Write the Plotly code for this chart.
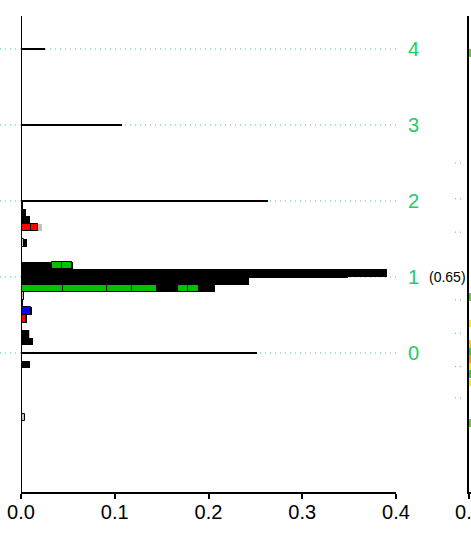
import plotly.graph_objects as go

# ---- data -------------------------------------------------------------
# integer-level reference lines
LEVEL_Y = [0, 1, 2, 3, 4]
LEVEL_X = [0.252, 0.349, 0.263, 0.108, 0.026]

# light grey background bins
GREY_Y = [2.55, 2.25, 1.65, 0.75, 0.25, -0.75]
GREY_X = [0.001, 0.001, 0.022, 0.003, 0.0095, 0.001]

# black totals per bin
BLACK_Y = [1.95, 1.85, 1.75, 1.55, 1.45, 1.35, 1.25, 1.15, 1.05, 0.95, 0.85,
           0.65, 0.55, 0.45, 0.35, 0.25, 0.15, 0.05, -0.05, -0.15]
BLACK_X = [0.0025, 0.0055, 0.0095, 0.001, 0.0067, 0.001, 0.001, 0.0555, 0.39,
           0.243, 0.207, 0.0012, 0.012, 0.0065, 0.001, 0.0085, 0.013, 0.001,
           0.001, 0.0096]

# coloured sub-segments: bin, start, end, colour
SEG_Y = [1.65, 1.65, 1.45, 1.15, 1.15,
         0.85, 0.85, 0.85, 0.85, 0.85, 0.85,
         0.75, 0.55, 0.45, -0.85]
SEG_START = [0.0, 0.011, 0.0, 0.033, 0.0435,
             0.0, 0.0448, 0.0917, 0.118, 0.167, 0.178,
             0.0, 0.0, 0.0, 0.0]
SEG_END = [0.011, 0.018, 0.0035, 0.0435, 0.054,
           0.0448, 0.0917, 0.118, 0.145, 0.178, 0.19,
           0.003, 0.011, 0.0055, 0.004]
SEG_COLOR = ["#ff0000", "#ff0000", "#c0c0c0", "#00c000", "#00c000",
             "#00c000", "#00c000", "#00c000", "#00c000", "#00c000", "#00c000",
             "#c0c0c0", "#0000ff", "#ff0000", "#c0c0c0"]

Y_TICKS = [0, 1, 2, 3, 4]
Y_TICK_TEXT = ["0", "1", "2", "3", "4"]
X_TICKS = [0.0, 0.1, 0.2, 0.3, 0.4]
X_TICK_TEXT = ["0.0", "0.1", "0.2", "0.3", "0.4"]
NOTE_Y = 1
NOTE_TEXT = "(0.65)"

# neighbouring panel (mostly off-page)
P2_Y = [3.95, 0.74, 0.39, 0.12, 0.02, -0.08, -0.18, -0.28, -0.39, -0.92]
P2_X = [0.0015, 0.0015, 0.002, 0.002, 0.002, 0.002, 0.002, 0.002, 0.002, 0.0015]
P2_COLOR = ["#66cc33", "#66cc33", "#ffee00", "#ffcc00", "#33cc33", "#ff9900",
            "#ffee00", "#33cc33", "#ffee00", "#66cc33"]
P2_GRID = [2.5, 2.03, 1.59, 0.70, 0.26, -0.18, -0.59]

GREEN = "#22cc66"
DOT = "#33cc88"
FONT = "Liberation Sans, Arial, sans-serif"
BIN_W = 0.1

fig = go.Figure()

fig.add_trace(go.Bar(y=GREY_Y, x=GREY_X, orientation="h", width=BIN_W,
                     marker=dict(color="#c0c0c0", line=dict(width=0)),
                     showlegend=False, xaxis="x", yaxis="y"))
fig.add_trace(go.Bar(y=BLACK_Y, x=BLACK_X, orientation="h", width=BIN_W,
                     marker=dict(color="#000000", line=dict(width=0)),
                     showlegend=False, xaxis="x", yaxis="y"))
fig.add_trace(go.Bar(y=SEG_Y, x=[e - s for s, e in zip(SEG_START, SEG_END)],
                     base=SEG_START, orientation="h", width=BIN_W,
                     marker=dict(color=SEG_COLOR, line=dict(color="#000000", width=1)),
                     showlegend=False, xaxis="x", yaxis="y"))
fig.add_trace(go.Bar(y=LEVEL_Y, x=LEVEL_X, orientation="h", width=0.018,
                     marker=dict(color="#000000", line=dict(width=0)),
                     showlegend=False, xaxis="x", yaxis="y"))

fig.add_trace(go.Bar(y=P2_Y, x=P2_X, orientation="h", width=BIN_W,
                     marker=dict(color=P2_COLOR, line=dict(width=0)),
                     showlegend=False, xaxis="x2", yaxis="y2"))

Y_RANGE = [-1.829, 4.434]
L, R, T, B = 21, 0, 16, 42
W, H = 471, 534
paper_w = W - L - R
main_right = 375 / paper_w

# dotted level guides, running past the left axis
for yv in Y_TICKS:
    fig.add_shape(type="line", xref="paper", yref="y", x0=-L / paper_w,
                  x1=(400 - L) / paper_w, y0=yv, y1=yv, layer="below",
                  line=dict(color=DOT, width=1, dash="1px,4px"))
for yv in P2_GRID:
    fig.add_shape(type="line", xref="paper", yref="y", x0=(455 - L) / paper_w,
                  x1=(465 - L) / paper_w, y0=yv, y1=yv, layer="below",
                  line=dict(color=DOT, width=1, dash="1px,4px"))

# left axis line of the main panel
fig.add_shape(type="line", xref="x", yref="paper", x0=0, x1=0, y0=0, y1=1,
              layer="above", line=dict(color="#000000", width=2))

fig.add_annotation(x=(427 - L) / paper_w, xref="paper", y=NOTE_Y, yref="y",
                   text=NOTE_TEXT, showarrow=False, xanchor="left",
                   font=dict(family=FONT, size=14, color="#000000"))

fig.update_layout(
    width=W, height=H,
    margin=dict(l=L, r=R, t=T, b=B, pad=0, autoexpand=False),
    paper_bgcolor="white", plot_bgcolor="white",
    barmode="overlay", bargap=0,
    font=dict(family=FONT, size=20, color="#000000"),
    xaxis=dict(domain=[0, main_right], range=[0, 0.4], tickvals=X_TICKS,
               ticktext=X_TICK_TEXT, showgrid=False, zeroline=False,
               showline=True, linecolor="#000000", linewidth=2,
               ticks="outside", ticklen=5, tickwidth=2, tickcolor="#000000",
               ticklabelstandoff=-4, ticklabeloverflow="allow",
               anchor="y", automargin=False, tickfont=dict(size=20)),
    yaxis=dict(domain=[0, 1], range=Y_RANGE, side="right", anchor="x",
               tickvals=Y_TICKS, ticktext=Y_TICK_TEXT, showgrid=False,
               zeroline=False, showline=False, ticks="outside", ticklen=7,
               tickcolor="rgba(0,0,0,0)", automargin=False,
               tickfont=dict(size=20, color=GREEN)),
    xaxis2=dict(domain=[(469 - L) / paper_w, 1], range=[0, 0.4 * 2 / 375],
                tickvals=[0], ticktext=["0.0"], showgrid=False, zeroline=False,
                showline=True, linecolor="#000000", linewidth=2,
                ticks="outside", ticklen=5, tickwidth=2, tickcolor="#000000",
                ticklabelstandoff=-4, ticklabeloverflow="allow",
                anchor="y2", automargin=False, tickfont=dict(size=20)),
    yaxis2=dict(domain=[0, 1], range=Y_RANGE, anchor="x2", side="left",
                showgrid=False, zeroline=False, showline=True,
                linecolor="#000000", linewidth=2, showticklabels=False,
                ticks="", automargin=False),
)

fig.write_html("out.html")
